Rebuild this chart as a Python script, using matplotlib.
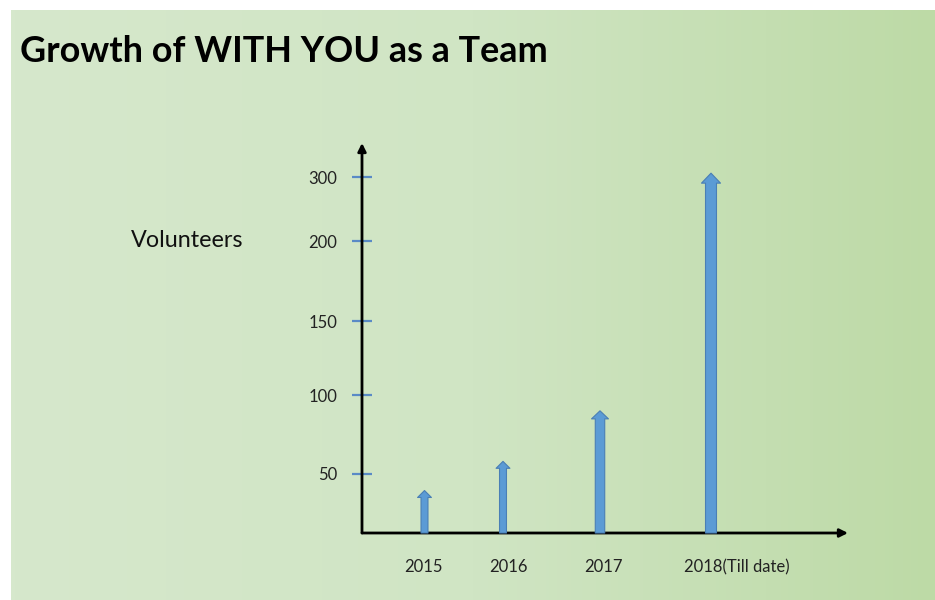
import numpy as np
import matplotlib
matplotlib.use('Agg')
import matplotlib.pyplot as plt
from matplotlib.colors import LinearSegmentedColormap

# data
years = ['2015', '2016', '2017', '2018(Till date)']
volunteers = [36, 58, 90, 306]
tick_values = [50, 100, 150, 200, 300]

# layout (axis is drawn in pixel-like units along x)
arrow_x = [62.5, 141, 238, 349]
label_x = [61.5, 146.5, 241, 375]
# uneven spacing of the value ticks on the slide
scale_vals = [0, 50, 100, 150, 200, 300, 353]
scale_pos = [0, 59, 138, 212, 292, 356, 390]
# arrow sizes (points): tail width, head width, head length
arrow_sizes = [(5.0, 10.0, 5.0), (5.0, 10.0, 5.0), (6.8, 12.2, 5.8), (7.9, 13.7, 7.2)]

plt.rcParams['font.family'] = ['Lato', 'DejaVu Sans']

fig = plt.figure(figsize=(9.35, 6.0), dpi=100)
fig.patch.set_facecolor('white')

# gradient background of the slide
bg = fig.add_axes([11 / 935, -0.05, (936 - 11) / 935, (600 - 10) / 600 + 0.05])
cmap = LinearSegmentedColormap.from_list('bg', ['#d6e8cc', '#d0e5c4', '#bddaa6'])
grad = np.linspace(0, 1, 256).reshape(1, -1)
bg.imshow(grad, aspect='auto', cmap=cmap, extent=[0, 1, 0, 1])
bg.set_xlim(0, 1)
bg.set_ylim(0, 1)
bg.set_axis_off()

ax = fig.add_axes([362 / 935, (600 - 533) / 600, (848 - 362) / 935, (533 - 143) / 600])
ax.patch.set_visible(False)


def fwd(v):
    return np.interp(v, scale_vals, scale_pos)


def inv(p):
    return np.interp(p, scale_pos, scale_vals)


ax.set_yscale('function', functions=(fwd, inv))
ax.set_xlim(0, 486)
ax.set_ylim(0, 353)

for s in ax.spines.values():
    s.set_visible(False)

# axis lines with arrow heads
ax.annotate('', xy=(0, 1), xytext=(0, 0), xycoords='axes fraction',
            arrowprops=dict(arrowstyle='-|>', color='black', lw=2,
                            mutation_scale=12, shrinkA=0, shrinkB=0))
ax.annotate('', xy=(1, 0), xytext=(0, 0), xycoords='axes fraction',
            arrowprops=dict(arrowstyle='-|>', color='black', lw=2,
                            mutation_scale=12, shrinkA=0, shrinkB=0))

# volunteer arrows
for x, v, (tw, hw, hl) in zip(arrow_x, volunteers, arrow_sizes):
    ax.annotate('', xy=(x, v), xytext=(x, 0),
                arrowprops=dict(arrowstyle=f'simple,head_length={hl},head_width={hw},tail_width={tw}',
                                fc='#5b9bd5', ec='#4a7fb5', lw=0.8,
                                mutation_scale=1, shrinkA=0, shrinkB=0))

# y ticks
ax.set_yticks(tick_values)
ax.set_yticklabels([str(t) for t in tick_values])
ax.yaxis.set_minor_locator(matplotlib.ticker.NullLocator())
ax.tick_params(axis='y', direction='inout', length=14, width=1.6, color='#5a8ac6',
               pad=11, labelsize=12, labelcolor='#222222')
ax.set_xticks([])

# year labels
for x, s in zip(label_x, years):
    ax.text(x, -0.087, s, transform=ax.get_xaxis_transform(), ha='center', va='center',
            fontsize=12, color='#222222')

fig.text(20 / 935, 1 - 51 / 600, 'Growth of WITH YOU as a Team', fontsize=25.9,
         fontweight='bold', ha='left', va='center', color='black')
fig.text(187 / 935, 1 - 241 / 600, 'Volunteers', fontsize=16.8, ha='center', va='center',
         color='#111111')

plt.savefig('out.png', dpi=100)
